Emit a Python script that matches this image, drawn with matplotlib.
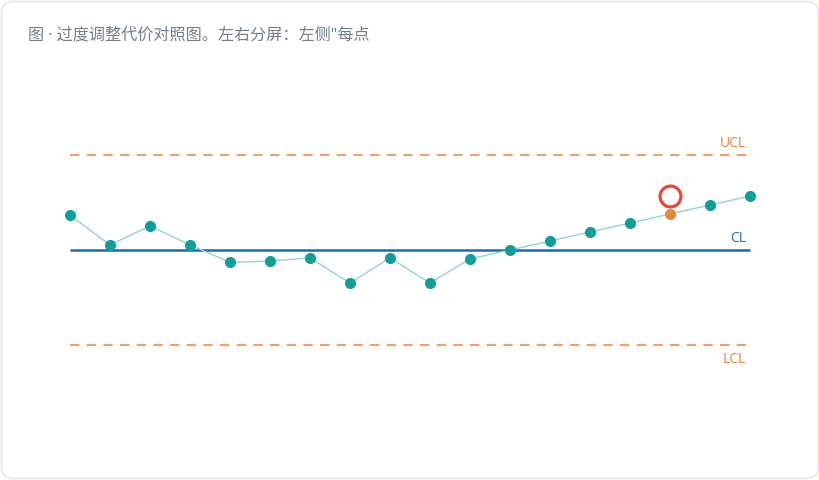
import matplotlib
matplotlib.use("Agg")
import matplotlib.pyplot as plt
from matplotlib.patches import FancyBboxPatch

plt.rcParams['font.family'] = ['Noto Sans CJK SC', 'DejaVu Sans']

title = '图 · 过度调整代价对照图。左右分屏：左侧"每点'
samples = list(range(1, 19))
values = [1.10, 0.16, 0.76, 0.16, -0.39, -0.35, -0.25, -1.04, -0.25, -1.04,
          -0.28, 0.00, 0.28, 0.57, 0.85, 1.14, 1.42, 1.70]
cl, ucl, lcl = 0.0, 3.0, -3.0
flag_index = 15          # 0-based index of flagged point
flag_ring_value = 1.70   # ring drawn above flagged point

W, H = 820, 480
fig = plt.figure(figsize=(W / 100, H / 100), dpi=100)
fig.patch.set_facecolor('white')

# card background
card = FancyBboxPatch((1.5 / W, 1.5 / H), (W - 3) / W, (H - 3) / H,
                      boxstyle="round,pad=0,rounding_size=0.015",
                      transform=fig.transFigure, facecolor='white',
                      edgecolor='#e3e6ea', linewidth=1.2, mutation_aspect=W / H,
                      zorder=-10)
fig.patches.append(card)

fig.text(28 / W, 1 - 35 / H, title, fontsize=11.6, color='#737e8c',
         ha='left', va='center', family=['Noto Sans', 'Noto Sans CJK SC'])

ax = fig.add_axes([70 / W, 1 - 400 / H, 680 / W, 300 / H], zorder=5)
ax.patch.set_alpha(0)
ax.set_xlim(samples[0], samples[-1])
span = 150 / 31.667
ax.set_ylim(-span, span)
ax.axis('off')

dash_col = '#f0a068'
lab_col = '#e8833a'
ax.plot([samples[0], samples[-1]], [ucl, ucl], color=dash_col, lw=1.5,
        dashes=(4.5, 3.5), dash_capstyle='butt', clip_on=False)
ax.plot([samples[0], samples[-1]], [lcl, lcl], color=dash_col, lw=1.5,
        dashes=(4.5, 3.5), dash_capstyle='butt', clip_on=False)
ax.plot([samples[0], samples[-1]], [cl, cl], color='#1f6aab', lw=1.8,
        solid_capstyle='butt', clip_on=False, zorder=2)

ax.plot(samples, values, color='#93d5d2', lw=1.0, zorder=3, clip_on=False)
normal_x = [s for i, s in enumerate(samples) if i != flag_index]
normal_y = [v for i, v in enumerate(values) if i != flag_index]
ax.plot(normal_x, normal_y, 'o', color='#0f9f98', markersize=8,
        markeredgewidth=0, zorder=4, clip_on=False)
ax.plot([samples[flag_index]], [values[flag_index]], 'o', color='#e8883a',
        markersize=8, markeredgewidth=0, zorder=4, clip_on=False)
ax.plot([samples[flag_index]], [flag_ring_value], 'o', markerfacecolor='none',
        markeredgecolor='#e8473a', markersize=15, markeredgewidth=2.3,
        zorder=5, clip_on=False)

xr = samples[-1] - 0.1
ax.text(xr, ucl + 0.13, 'UCL', color=lab_col, fontsize=10, ha='right',
        va='bottom', family=['Open Sans', 'DejaVu Sans'])
ax.text(xr, cl + 0.13, 'CL', color='#1f6aab', fontsize=10, ha='right',
        va='bottom', family=['Open Sans', 'DejaVu Sans'])
ax.text(xr, lcl - 0.23, 'LCL', color=lab_col, fontsize=10, ha='right',
        va='top', family=['Open Sans', 'DejaVu Sans'])

fig.savefig('out.png', dpi=100, facecolor='white')
